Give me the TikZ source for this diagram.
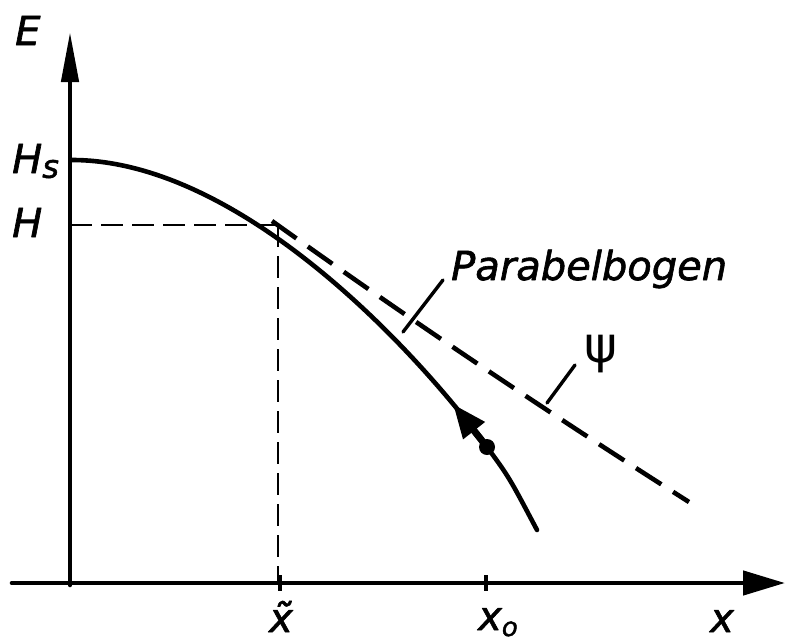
\documentclass[tikz,border=0pt]{standalone}
\usepackage{fontspec}
\setmainfont{DejaVu Sans}[ItalicFeatures={FakeBold=1.6}]
\usetikzlibrary{arrows.meta}

\tikzset{
  axis/.style={line width=4.6pt, line cap=round},
  guide/.style={line width=2.8pt, dash pattern=on 22pt off 9pt},
  parab/.style={line width=4.6pt, dash pattern=on 30pt off 14pt},
  lbl/.style={inner sep=0pt, font=\fontsize{40}{40}\selectfont\itshape},
  leader/.style={line width=3.4pt, line cap=round},
}

\begin{document}
\begin{tikzpicture}[x=1pt, y=-1pt, line join=round]

  %% ==== Punkte ====
  \coordinate (O)    at (70,583);
  \coordinate (Etop) at (70,32);
  \coordinate (Xend) at (785,583);
  \coordinate (Xbeg) at (12,583);
  \coordinate (Hs)   at (72,160);
  \coordinate (Ht)   at (278,225);
  \coordinate (Hax)  at (70,225);
  \coordinate (Xt)   at (278,583);
  \coordinate (X0)   at (487,447);
  \coordinate (tip)  at (453,404);
  \coordinate (Send) at (537,530);
  \coordinate (Pbeg) at (272,221);
  \coordinate (Pend) at (689,502);

  %% ==== Achsen ====
  \draw[axis, -{Triangle[length=50pt, width=17pt]}] (O) ++(0,2) -- (Etop);
  \draw[axis, -{Triangle[length=42pt, width=24pt]}] (Xbeg) -- (Xend);
  \draw[line width=4pt] (280,575) -- (280,591);
  \draw[line width=4pt] (486,575) -- (486,591);

  %% ==== Hilfslinien bei H ====
  \draw[guide] (Hax) -- (Ht);
  \draw[guide] (Ht) -- (Xt);

  %% ==== Kurve E(x) ====
  \draw[line width=4.6pt, line cap=round]
    (Hs) .. controls (230,160) and (400,330) .. (X0)
         .. controls (509,477) .. (Send);
  \draw[line width=7pt, -{Triangle[length=34pt, width=26pt]}] (X0) -- (tip);
  \fill (X0) circle (8pt);

  %% ==== Parabelbogen psi (gestrichelt) ====
  \draw[parab] (Pbeg) .. controls (420,327) and (560,420) .. (Pend);

  %% ==== Beschriftung ====
  \node[lbl, anchor=base west] (lE)  at (15,45)  {E};
  \node[lbl, anchor=base west] (lHs) at (12,173) {H\raisebox{-0.12em}{\fontsize{32}{32}\selectfont s}};
  \node[lbl, anchor=base west] (lH)  at (12,237) {H};
  \node[lbl, anchor=base]      (lxt) at (281,632) {\~{x}};
  \node[lbl, anchor=base west] (lx0) at (478,630) {x\raisebox{-0.15em}{\fontsize{26}{26}\selectfont o}};
  \node[lbl, anchor=base]      (lx)  at (722,632) {x};
  \node[lbl, anchor=base west] (lP)  at (451,280) {Parabelbogen};
  \node[lbl, font=\fontsize{50}{50}\selectfont] (lpsi) at (601,354) {ψ};

  %% ==== Hinweislinien ====
  \coordinate (Pfoot) at (403,332);
  \coordinate (psifoot) at (547,403);
  \draw[leader] (443,280) -- (Pfoot);
  \draw[leader] (575,365) -- (psifoot);

  % Rahmen fest
  \pgfresetboundingbox
  \path[use as bounding box] (0,0) rectangle (790,643);
\end{tikzpicture}
\end{document}
